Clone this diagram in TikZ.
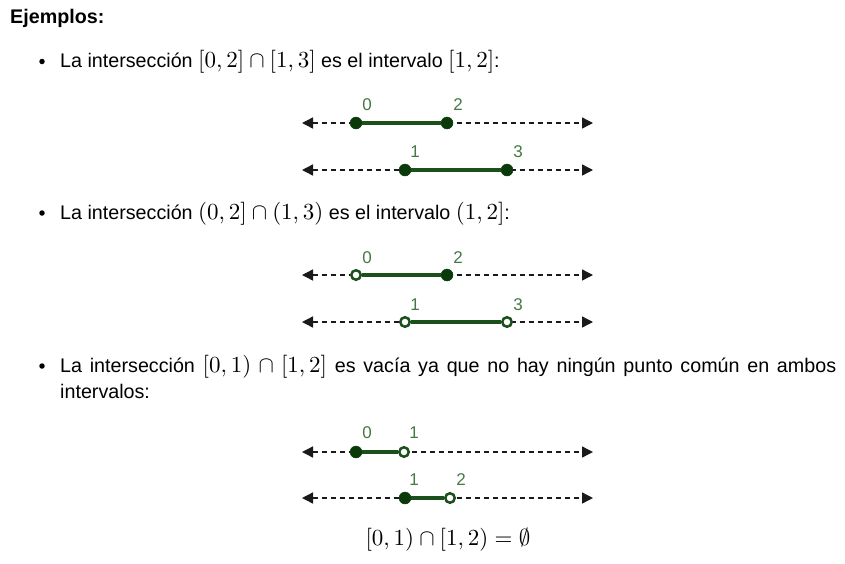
\documentclass[tikz,border=0pt]{standalone}
\usepackage{fontspec}
\setmainfont{Liberation Sans}
\usetikzlibrary{arrows.meta}
\DeclareFontShape{OT1}{cmr}{m}{n}{<->cmr10}{}
\DeclareFontShape{OML}{cmm}{m}{it}{<->cmmi10}{}
\DeclareFontShape{OMS}{cmsy}{m}{n}{<->cmsy10}{}
\definecolor{ptfill}{HTML}{0A3A0A}
\definecolor{segc}{HTML}{1B4F1B}
\definecolor{lblc}{HTML}{457845}
\definecolor{axc}{HTML}{1A1A1A}
\tikzset{
  axis/.style={draw=axc, line width=1.4pt, dash pattern=on 5pt off 4pt,
    {Triangle[length=11pt,width=11pt]}-{Triangle[length=11pt,width=11pt]}},
  closedpt/.style={circle, fill=ptfill, draw=ptfill, inner sep=0pt, minimum size=12pt},
  openpt/.style={circle, fill=white, draw=segc, line width=2.5pt, inner sep=0pt, minimum size=9.5pt},
  seg/.style={draw=segc, line width=4.2pt},
  lbl/.style={text=lblc, font=\fontsize{17}{19}\selectfont, inner sep=0pt},
  body/.style={font=\fontsize{19.7}{23}\selectfont, inner sep=0pt, anchor=base west},
  bulletdot/.style={circle, fill=black, inner sep=0pt, minimum size=5.5pt},
}
\newcommand{\mth}[1]{{\fontsize{23}{27}\selectfont$#1$}}
\begin{document}
\begin{tikzpicture}[x=1pt,y=-1pt]
\useasboundingbox[fill=white] (0,0) rectangle (845,563);

% heading
\node[body, font=\bfseries\fontsize{19.7}{23}\selectfont] (head) at (10,23.5) {Ejemplos:};

% bullet 1
\node[bulletdot] (b1) at (42,61.5) {};
\node[body] (t1) at (60,67.5) {La intersección \mth{[0,2]\cap[1,3]} es el intervalo \mth{[1,2]}:};

% set 1
\coordinate (a1l) at (302,123); \coordinate (a1r) at (593,123);
\draw[axis] (a1l) -- (a1r);
\node[closedpt] (p10) at (356,123) {};
\node[closedpt] (p12) at (447,123) {};
\draw[seg] (p10) -- (p12);
\node[lbl] (l10) at (367,104.5) {0};
\node[lbl] (l12) at (458,104.5) {2};
\coordinate (a2l) at (302,170); \coordinate (a2r) at (593,170);
\draw[axis] (a2l) -- (a2r);
\node[closedpt] (p21) at (405,170) {};
\node[closedpt] (p23) at (507,170) {};
\draw[seg] (p21) -- (p23);
\node[lbl] (l21) at (415,151.5) {1};
\node[lbl] (l23) at (518,151.5) {3};

% bullet 2
\node[bulletdot] (b2) at (42,213) {};
\node[body] (t2) at (60,219) {La intersección \mth{(0,2]\cap(1,3)} es el intervalo \mth{(1,2]}:};

% set 2
\coordinate (a3l) at (302,275); \coordinate (a3r) at (593,275);
\draw[axis] (a3l) -- (a3r);
\node[openpt] (p30) at (356,275) {};
\node[closedpt] (p32) at (447,275) {};
\draw[seg] (p30) -- (p32);
\node[lbl] (l30) at (367,257.5) {0};
\node[lbl] (l32) at (458,257.5) {2};
\coordinate (a4l) at (302,322); \coordinate (a4r) at (593,322);
\draw[axis] (a4l) -- (a4r);
\node[openpt] (p41) at (405,322) {};
\node[openpt] (p43) at (507,322) {};
\draw[seg] (p41) -- (p43);
\node[lbl] (l41) at (415,304.5) {1};
\node[lbl] (l43) at (518,304.5) {3};

% bullet 3
\node[bulletdot] (b3) at (42,366) {};
\node[body] (t3) at (60,372) {\makebox[776pt][s]{La intersección \mth{[0,1)\cap[1,2]} es vacía ya que no hay ningún punto común en ambos}};
\node[body] (t4) at (60,398) {intervalos:};

% set 3
\coordinate (a5l) at (302,452); \coordinate (a5r) at (593,452);
\draw[axis] (a5l) -- (a5r);
\node[closedpt] (p50) at (356,452) {};
\node[openpt] (p51) at (404,452) {};
\draw[seg] (p50) -- (p51);
\node[lbl] (l50) at (367,433) {0};
\node[lbl] (l51) at (414,433) {1};
\coordinate (a6l) at (302,498); \coordinate (a6r) at (593,498);
\draw[axis] (a6l) -- (a6r);
\node[closedpt] (p61) at (405,498) {};
\node[openpt] (p62) at (450,498) {};
\draw[seg] (p61) -- (p62);
\node[lbl] (l61) at (414,480) {1};
\node[lbl] (l62) at (461,480) {2};

% result
\node[anchor=base, inner sep=0pt] (res) at (448,545) {\mth{[0,1)\cap[1,2)=\emptyset}};
\end{tikzpicture}
\end{document}
